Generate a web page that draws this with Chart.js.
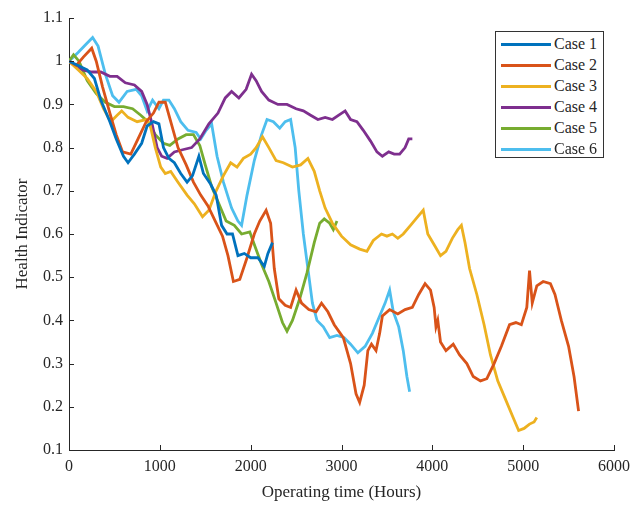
<!DOCTYPE html>
<html>
<head>
<meta charset="utf-8">
<script src="https://cdn.jsdelivr.net/npm/chart.js@4.4.6/dist/chart.umd.min.js"></script>
<style>
  body { margin: 0; background: #fff; }
  #wrap { position: relative; width: 637px; height: 506px; }
  #legend {
    position: absolute; left: 495px; top: 31px; width: 107px; height: 125px;
    border: 1px solid #333; background: #fff;
    font-family: 'Liberation Serif', 'Times New Roman', serif; font-size: 16px; color: #262626;
  }
  #legend .row { position: absolute; left: 0; height: 20px; line-height: 20px; white-space: nowrap; }
  #legend .swatch { position: absolute; left: 5px; top: 9px; width: 50px; height: 3px; }
  #legend .lbl { position: absolute; left: 58px; top: 0; font-family: 'Liberation Serif', serif; font-weight: normal; }
</style>
</head>
<body>
<div id="wrap">
  <canvas id="chart" width="637" height="506"></canvas>
  <div id="legend"></div>
</div>
<script>
// data: [hours, health indicator]
const caseNames = ['Case 1', 'Case 2', 'Case 3', 'Case 4', 'Case 5', 'Case 6'];
const caseColors = ['#0072BD', '#D95319', '#EDB120', '#7E2F8E', '#77AC30', '#4DBEEE'];

const case1 = [[0,1.0],[100,0.99],[200,0.98],[280,0.96],[350,0.91],[450,0.86],[520,0.82],[600,0.78],[650,0.765],[720,0.785],[800,0.81],[860,0.85],[930,0.86],[990,0.855],[1040,0.8],[1100,0.775],[1160,0.765],[1230,0.74],[1300,0.72],[1360,0.735],[1430,0.78],[1480,0.74],[1560,0.715],[1620,0.69],[1680,0.62],[1740,0.6],[1800,0.6],[1860,0.55],[1930,0.555],[2000,0.545],[2080,0.545],[2150,0.525],[2190,0.555],[2240,0.58]];

const case2 = [[0,1.0],[80,0.99],[160,1.01],[250,1.03],[300,1.0],[370,0.94],[450,0.88],[520,0.83],[590,0.79],[680,0.785],[760,0.82],[850,0.86],[930,0.88],[990,0.905],[1060,0.905],[1120,0.86],[1200,0.8],[1290,0.76],[1370,0.72],[1450,0.69],[1530,0.665],[1610,0.63],[1690,0.595],[1750,0.55],[1810,0.49],[1880,0.495],[1960,0.545],[2040,0.6],[2100,0.63],[2170,0.655],[2220,0.625],[2260,0.52],[2310,0.45],[2380,0.435],[2440,0.43],[2500,0.47],[2560,0.44],[2640,0.425],[2720,0.42],[2780,0.44],[2850,0.42],[2920,0.39],[3020,0.36],[3100,0.3],[3160,0.23],[3200,0.21],[3250,0.25],[3290,0.33],[3330,0.345],[3380,0.33],[3420,0.37],[3450,0.41],[3530,0.425],[3620,0.415],[3700,0.425],[3780,0.43],[3850,0.46],[3920,0.485],[3980,0.47],[4020,0.43],[4040,0.385],[4060,0.4],[4090,0.35],[4150,0.33],[4230,0.345],[4300,0.32],[4380,0.3],[4450,0.27],[4530,0.26],[4600,0.265],[4680,0.3],[4760,0.34],[4850,0.39],[4920,0.395],[4980,0.39],[5040,0.43],[5070,0.515],[5100,0.44],[5150,0.48],[5220,0.49],[5300,0.485],[5350,0.46],[5420,0.4],[5500,0.34],[5560,0.27],[5610,0.19]];

const case3 = [[0,1.0],[100,0.98],[200,0.96],[300,0.93],[380,0.89],[460,0.86],[530,0.875],[580,0.885],[650,0.87],[750,0.86],[850,0.865],[890,0.855],[950,0.8],[1010,0.755],[1060,0.74],[1120,0.745],[1200,0.72],[1300,0.69],[1380,0.67],[1470,0.64],[1540,0.655],[1620,0.7],[1700,0.735],[1780,0.765],[1850,0.755],[1920,0.775],[2000,0.785],[2060,0.8],[2130,0.825],[2200,0.8],[2280,0.77],[2360,0.765],[2460,0.755],[2550,0.76],[2630,0.775],[2700,0.745],[2760,0.7],[2820,0.66],[2900,0.625],[3000,0.595],[3100,0.575],[3200,0.565],[3280,0.56],[3350,0.585],[3440,0.6],[3500,0.595],[3560,0.6],[3620,0.59],[3680,0.6],[3760,0.62],[3840,0.64],[3900,0.655],[3950,0.6],[4020,0.575],[4090,0.55],[4150,0.56],[4220,0.59],[4280,0.61],[4320,0.62],[4360,0.58],[4410,0.52],[4490,0.46],[4570,0.39],[4640,0.32],[4720,0.26],[4800,0.22],[4880,0.18],[4950,0.145],[5010,0.15],[5070,0.16],[5120,0.165],[5150,0.175]];

const case4 = [[0,1.0],[60,0.99],[150,0.98],[250,0.975],[350,0.975],[450,0.965],[530,0.965],[620,0.95],[720,0.945],[800,0.93],[860,0.9],[920,0.85],[970,0.8],[1020,0.78],[1080,0.775],[1160,0.79],[1250,0.795],[1350,0.8],[1440,0.82],[1540,0.855],[1640,0.88],[1720,0.915],[1790,0.93],[1870,0.915],[1950,0.935],[2010,0.97],[2060,0.955],[2120,0.93],[2200,0.91],[2300,0.9],[2400,0.9],[2500,0.89],[2580,0.885],[2660,0.875],[2740,0.865],[2820,0.87],[2900,0.865],[2970,0.875],[3040,0.885],[3100,0.865],[3170,0.86],[3240,0.84],[3320,0.815],[3390,0.79],[3450,0.78],[3520,0.79],[3580,0.785],[3640,0.785],[3700,0.8],[3740,0.82],[3780,0.82]];

const case5 = [[0,1.0],[50,1.015],[110,1.0],[200,0.955],[300,0.925],[400,0.905],[500,0.895],[600,0.895],[700,0.89],[790,0.875],[870,0.86],[950,0.83],[1040,0.81],[1110,0.805],[1200,0.82],[1290,0.83],[1370,0.83],[1440,0.805],[1500,0.76],[1570,0.71],[1650,0.67],[1730,0.63],[1820,0.62],[1900,0.6],[1990,0.605],[2050,0.57],[2120,0.53],[2200,0.49],[2280,0.44],[2350,0.395],[2400,0.375],[2460,0.4],[2540,0.45],[2620,0.51],[2700,0.58],[2760,0.625],[2810,0.635],[2870,0.625],[2910,0.61],[2950,0.63]];

const case6 = [[0,1.0],[100,1.02],[190,1.04],[260,1.055],[320,1.035],[400,0.97],[480,0.92],[550,0.905],[640,0.93],[740,0.935],[800,0.92],[860,0.885],[920,0.91],[990,0.89],[1040,0.91],[1100,0.91],[1160,0.89],[1230,0.86],[1310,0.84],[1400,0.835],[1450,0.82],[1510,0.84],[1570,0.855],[1630,0.78],[1700,0.72],[1790,0.66],[1860,0.63],[1900,0.62],[1960,0.69],[2040,0.77],[2120,0.83],[2180,0.865],[2250,0.86],[2320,0.845],[2380,0.86],[2440,0.865],[2490,0.8],[2530,0.7],[2580,0.6],[2630,0.52],[2680,0.44],[2730,0.4],[2800,0.385],[2870,0.36],[2950,0.365],[3030,0.36],[3100,0.345],[3180,0.325],[3260,0.34],[3340,0.37],[3420,0.41],[3480,0.44],[3530,0.47],[3570,0.42],[3630,0.385],[3680,0.33],[3720,0.27],[3750,0.235]];

const cases = [case1, case2, case3, case4, case5, case6];

const xTicks = [0, 1000, 2000, 3000, 4000, 5000, 6000];
const yTicks = [0.1, 0.2, 0.3, 0.4, 0.5, 0.6, 0.7, 0.8, 0.9, 1.0, 1.1];

const ink = '#262626';
const serif = "'Liberation Serif', 'Times New Roman', serif";

// MATLAB-like inward tick marks
const innerTicks = {
  id: 'innerTicks',
  afterDraw(chart) {
    const ctx = chart.ctx, x = chart.scales.x, y = chart.scales.y, a = chart.chartArea;
    ctx.save();
    ctx.strokeStyle = ink;
    ctx.lineWidth = 1;
    ctx.beginPath();
    xTicks.forEach(v => {
      const px = Math.round(x.getPixelForValue(v)) + 0.5;
      ctx.moveTo(px, a.bottom); ctx.lineTo(px, a.bottom - 5);
    });
    yTicks.forEach(v => {
      const py = Math.round(y.getPixelForValue(v)) + 0.5;
      ctx.moveTo(a.left, py); ctx.lineTo(a.left + 5, py);
    });
    ctx.stroke();
    ctx.restore();
  }
};

new Chart(document.getElementById('chart'), {
  type: 'line',
  data: {
    datasets: cases.map((c, i) => ({
      label: caseNames[i],
      data: c.map(p => ({x: p[0], y: p[1]})),
      borderColor: caseColors[i],
      borderWidth: 2.8,
      pointRadius: 0,
      tension: 0,
      fill: false
    }))
  },
  options: {
    responsive: false,
    animation: false,
    devicePixelRatio: 1,
    layout: { padding: { top: 18, right: 23, left: 0, bottom: 0 } },
    plugins: { legend: { display: false }, tooltip: { enabled: false } },
    scales: {
      x: {
        type: 'linear', min: 0, max: 6000,
        afterFit: s => { s.height = 56; },
        afterBuildTicks: s => { s.ticks = xTicks.map(v => ({value: v})); },
        grid: { drawOnChartArea: false, drawTicks: false },
        border: { color: ink, width: 1 },
        ticks: { color: ink, padding: 7, font: { family: serif, size: 16 }, maxRotation: 0,
          callback: v => String(v) },
        title: { display: true, text: 'Operating time (Hours)', color: ink, font: { family: serif, size: 17 }, padding: { top: 0, bottom: 3 } }
      },
      y: {
        type: 'linear', min: 0.1, max: 1.1,
        afterFit: s => { s.width = 69; },
        afterBuildTicks: s => { s.ticks = yTicks.map(v => ({value: v})); },
        grid: { drawOnChartArea: false, drawTicks: false },
        border: { color: ink, width: 1 },
        ticks: { color: ink, padding: 6, font: { family: serif, size: 16 },
          callback: v => String(Number(v.toFixed(1))) },
        title: { display: true, text: 'Health Indicator', color: ink, font: { family: serif, size: 17 }, padding: { top: 12, bottom: 0 } }
      }
    }
  },
  plugins: [innerTicks]
});

// legend box built from the same names/colours
const lg = document.getElementById('legend');
caseNames.forEach((n, i) => {
  const row = document.createElement('div');
  row.className = 'row';
  row.style.top = (2 + i * 21) + 'px';
  row.style.width = '100%';
  const sw = document.createElement('span');
  sw.className = 'swatch';
  sw.style.background = caseColors[i];
  const lb = document.createElement('span');
  lb.className = 'lbl';
  lb.textContent = n;
  row.appendChild(sw);
  row.appendChild(lb);
  lg.appendChild(row);
});
</script>
</body>
</html>
